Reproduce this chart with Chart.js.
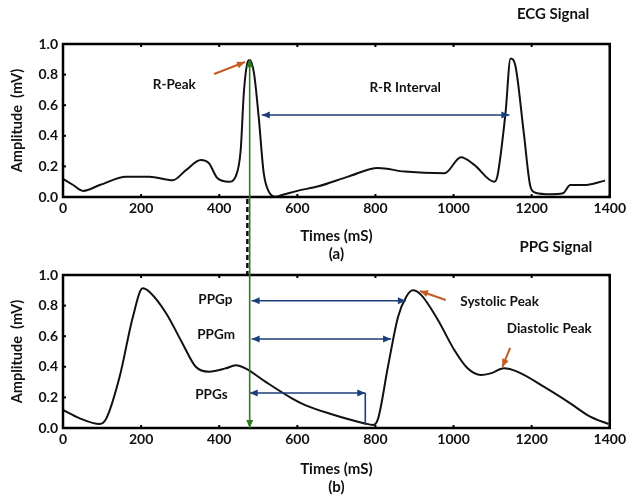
<!DOCTYPE html>
<html>
<head>
<meta charset="utf-8">
<script src="https://cdn.jsdelivr.net/npm/chart.js@4.4.1/dist/chart.umd.min.js"></script>
<style>
  html, body { margin: 0; padding: 0; background: #fff; }
  #wrap { position: relative; width: 629px; height: 498px; }
  #wrap canvas { position: absolute; left: 0; top: 0; }
</style>
</head>
<body>
<div id="wrap">
  <canvas id="ecgChart" width="629" height="498"></canvas>
  <canvas id="ppgChart" width="629" height="498"></canvas>
</div>
<script>
// ECG trace (ms, mV)
const ecgTimes  = [0, 25, 52, 94, 162, 221, 281, 315, 353, 374, 395, 425, 442, 455, 463, 472, 478, 489, 501, 514, 527, 544, 561, 600, 654, 730, 807, 875, 977, 1019, 1053, 1104, 1112, 1133, 1146, 1159, 1180, 1197, 1210, 1248, 1280, 1299, 1333, 1388];
const ecgValues = [0.118, 0.08, 0.04, 0.078, 0.133, 0.133, 0.11, 0.176, 0.242, 0.22, 0.124, 0.1, 0.133, 0.307, 0.68, 0.875, 0.895, 0.81, 0.525, 0.156, 0.035, 0.002, 0.013, 0.04, 0.07, 0.133, 0.19, 0.166, 0.155, 0.26, 0.21, 0.1, 0.133, 0.547, 0.906, 0.85, 0.416, 0.067, 0.028, 0.018, 0.024, 0.078, 0.078, 0.107];

// PPG trace (ms, mV)
const ppgTimes  = [0, 43, 94, 111, 145, 179, 204, 221, 264, 306, 340, 374, 417, 442, 467, 518, 586, 620, 688, 773, 794, 807, 832, 858, 879, 896, 917, 960, 1002, 1036, 1070, 1095, 1129, 1163, 1231, 1299, 1350, 1397];
const ppgValues = [0.118, 0.063, 0.026, 0.063, 0.335, 0.727, 0.913, 0.89, 0.75, 0.553, 0.4, 0.368, 0.39, 0.41, 0.39, 0.303, 0.194, 0.15, 0.09, 0.03, 0.02, 0.063, 0.4, 0.727, 0.858, 0.9, 0.87, 0.706, 0.51, 0.39, 0.346, 0.357, 0.39, 0.368, 0.27, 0.161, 0.074, 0.026];

const xTickValues = [0, 200, 400, 600, 800, 1000, 1200, 1400];
const xTickLabels = ['0', '200', '400', '600', '800', '1000', '1200', '1400'];
const yTickValues = [0, 0.2, 0.4, 0.6, 0.8, 1.0];
const yTickLabels = ['0.0', '0.2', '0.4', '0.6', '0.8', '1.0'];

// markers, in data units
const rPeakTime = 478;
const rrInterval = { from: 509, to: 1143, level: 0.536 };
const ppgIntervals = [
    { from: 483, to: 878, level: 0.832 },   // PPGp
    { from: 483, to: 840, level: 0.582 },   // PPGm
    { from: 478, to: 774, level: 0.229, drop: 0.02 }  // PPGs
];
const ecgNotes = [
    { text: 'R-Peak', t: 285, v: 0.732 },
    { text: 'R-R Interval', t: 876, v: 0.712 },
    { text: 'ECG Signal', t: 1255, v: 1.196, size: 15 }
];
const ppgNotes = [
    { text: 'PPG Signal', t: 1262, v: 1.183, size: 15 },
    { text: 'PPGp', t: 390, v: 0.837 },
    { text: 'PPGm', t: 392, v: 0.608 },
    { text: 'PPGs', t: 380, v: 0.216 },
    { text: 'Systolic Peak', t: 1118, v: 0.824 },
    { text: 'Diastolic Peak', t: 1245, v: 0.647 }
];
const ecgPointers = [ { from: [387, 0.804], to: [466, 0.882] } ];
const ppgPointers = [
    { from: [980, 0.837], to: [914, 0.895] },
    { from: [1145, 0.523], to: [1125, 0.399] }
];

const BLUE = '#1d3d7a';
const ORANGE = '#c45a24';
const GREEN = '#2f7a1f';

Chart.defaults.font.family = 'Lato';
Chart.defaults.color = '#111';

function toPoints(ts, vs) {
    return ts.map((t, i) => ({ x: t, y: vs[i] }));
}

function arrow(ctx, x1, y1, x2, y2, color, width, headEnd, headStart) {
    const L = 8, W = 3.5;
    const a = Math.atan2(y2 - y1, x2 - x1);
    ctx.save();
    ctx.strokeStyle = color;
    ctx.fillStyle = color;
    ctx.lineWidth = width;
    ctx.beginPath();
    ctx.moveTo(x1, y1);
    ctx.lineTo(x2, y2);
    ctx.stroke();
    const head = (x, y, ang) => {
        ctx.beginPath();
        ctx.moveTo(x, y);
        ctx.lineTo(x - L * Math.cos(ang) + W * Math.sin(ang), y - L * Math.sin(ang) - W * Math.cos(ang));
        ctx.lineTo(x - L * Math.cos(ang) - W * Math.sin(ang), y - L * Math.sin(ang) + W * Math.cos(ang));
        ctx.closePath();
        ctx.fill();
    };
    if (headEnd) head(x2, y2, a);
    if (headStart) head(x1, y1, a + Math.PI);
    ctx.restore();
}

function drawFrame(chart) {
    const { ctx, chartArea: a, scales: { x, y } } = chart;
    ctx.save();
    ctx.strokeStyle = '#000';
    ctx.lineWidth = 2.5;
    ctx.strokeRect(a.left, a.top, a.width, a.height);
    // small inward ticks
    ctx.lineWidth = 2;
    xTickValues.forEach(t => {
        const px = x.getPixelForValue(t);
        ctx.beginPath();
        ctx.moveTo(px, a.top); ctx.lineTo(px, a.top + 3);
        ctx.moveTo(px, a.bottom); ctx.lineTo(px, a.bottom - 3);
        ctx.stroke();
    });
    yTickValues.forEach(v => {
        const py = y.getPixelForValue(v);
        ctx.beginPath();
        ctx.moveTo(a.left, py); ctx.lineTo(a.left + 3, py);
        ctx.stroke();
    });
    ctx.restore();
}

function drawNotes(chart, notes) {
    const { ctx, scales: { x, y } } = chart;
    ctx.save();
    ctx.fillStyle = '#111';
    ctx.textAlign = 'center';
    ctx.textBaseline = 'middle';
    notes.forEach(n => {
        ctx.font = `bold ${n.size || 13.5}px Lato`;
        ctx.fillText(n.text, x.getPixelForValue(n.t), y.getPixelForValue(n.v));
    });
    ctx.restore();
}

function drawPointers(chart, list) {
    const { ctx, scales: { x, y } } = chart;
    list.forEach(p => {
        arrow(ctx, x.getPixelForValue(p.from[0]), y.getPixelForValue(p.from[1]),
              x.getPixelForValue(p.to[0]), y.getPixelForValue(p.to[1]), ORANGE, 2, true, false);
    });
}

function axisOptions(yWidth, xHeight, xTitle) {
    return {
        x: {
            type: 'linear', min: 0, max: 1400,
            afterBuildTicks: s => { s.ticks = xTickValues.map(v => ({ value: v })); },
            afterFit: s => { s.height = xHeight; },
            grid: { display: false, drawTicks: false },
            border: { display: false },
            ticks: { font: { size: 14, weight: 'bold' }, padding: 3, maxRotation: 0, color: '#111',
                     callback: (val, i) => xTickLabels[i] },
            title: { display: true, text: xTitle, font: { size: 15, weight: 'bold' }, padding: 0, color: '#111' }
        },
        y: {
            min: 0, max: 1,
            afterBuildTicks: s => { s.ticks = yTickValues.map(v => ({ value: v })); },
            afterFit: s => { s.width = yWidth; },
            grid: { display: false, drawTicks: false },
            border: { display: false },
            ticks: { font: { size: 14, weight: 'bold' }, padding: 5, color: '#111',
                     callback: (val, i) => yTickLabels[i] },
            title: { display: true, text: 'Amplitude  (mV)', font: { size: 14.5, weight: 'bold' }, padding: { top: 9 }, color: '#111' }
        }
    };
}

const ecgExtras = {
    id: 'ecgExtras',
    afterDraw(chart) {
        const { ctx, scales: { x, y } } = chart;
        drawFrame(chart);
        drawNotes(chart, ecgNotes);
        drawPointers(chart, ecgPointers);
        arrow(ctx, x.getPixelForValue(rrInterval.from), y.getPixelForValue(rrInterval.level),
              x.getPixelForValue(rrInterval.to), y.getPixelForValue(rrInterval.level), BLUE, 1.6, true, true);
    }
};

const ppgExtras = {
    id: 'ppgExtras',
    afterDraw(chart) {
        const { ctx, scales: { x, y } } = chart;
        drawFrame(chart);
        drawNotes(chart, ppgNotes);
        drawPointers(chart, ppgPointers);
        ppgIntervals.forEach(iv => {
            const py = y.getPixelForValue(iv.level);
            const x2 = x.getPixelForValue(iv.to);
            arrow(ctx, x.getPixelForValue(iv.from), py, x2, py, BLUE, 1.6, true, true);
            if (iv.drop !== undefined) {
                ctx.save();
                ctx.strokeStyle = BLUE;
                ctx.lineWidth = 1.6;
                ctx.beginPath();
                ctx.moveTo(x2, py);
                ctx.lineTo(x2, y.getPixelForValue(iv.drop));
                ctx.stroke();
                ctx.restore();
            }
        });
        // link between the two panels at the R peak
        const ex = ecgChart.scales.x, ey = ecgChart.scales.y;
        const gx = x.getPixelForValue(rPeakTime);
        const topY = ey.getPixelForValue(0.9);
        const botY = y.getPixelForValue(0);
        ctx.save();
        ctx.strokeStyle = '#111';
        ctx.lineWidth = 2.5;
        ctx.setLineDash([5, 3]);
        ctx.beginPath();
        ctx.moveTo(ex.getPixelForValue(rPeakTime - 6), ey.getPixelForValue(0) + 2);
        ctx.lineTo(x.getPixelForValue(rPeakTime - 6), y.getPixelForValue(1) - 1);
        ctx.stroke();
        ctx.restore();
        arrow(ctx, gx, botY, gx, topY, GREEN, 1.6, true, true);
    }
};

const ecgChart = new Chart(document.getElementById('ecgChart'), {
    type: 'line',
    data: {
        datasets: [{
            label: 'ECG',
            data: toPoints(ecgTimes, ecgValues),
            borderColor: '#111', borderWidth: 2, pointRadius: 0,
            cubicInterpolationMode: 'monotone', fill: false
        }]
    },
    options: {
        responsive: false, animation: false, devicePixelRatio: 1,
        layout: { padding: { left: 0, right: 16, top: 44, bottom: 235 } },
        plugins: { legend: { display: false }, tooltip: { enabled: false } },
        scales: axisOptions(63, 66, ['Times (mS)', '(a)'])
    },
    plugins: [ecgExtras]
});

const ppgChart = new Chart(document.getElementById('ppgChart'), {
    type: 'line',
    data: {
        datasets: [{
            label: 'PPG',
            data: toPoints(ppgTimes, ppgValues),
            borderColor: '#111', borderWidth: 2, pointRadius: 0,
            cubicInterpolationMode: 'monotone', fill: false
        }]
    },
    options: {
        responsive: false, animation: false, devicePixelRatio: 1,
        layout: { padding: { left: 0, right: 16, top: 275, bottom: 2 } },
        plugins: { legend: { display: false }, tooltip: { enabled: false } },
        scales: axisOptions(63, 68, ['Times (mS)', '(b)'])
    },
    plugins: [ppgExtras]
});
</script>
</body>
</html>
